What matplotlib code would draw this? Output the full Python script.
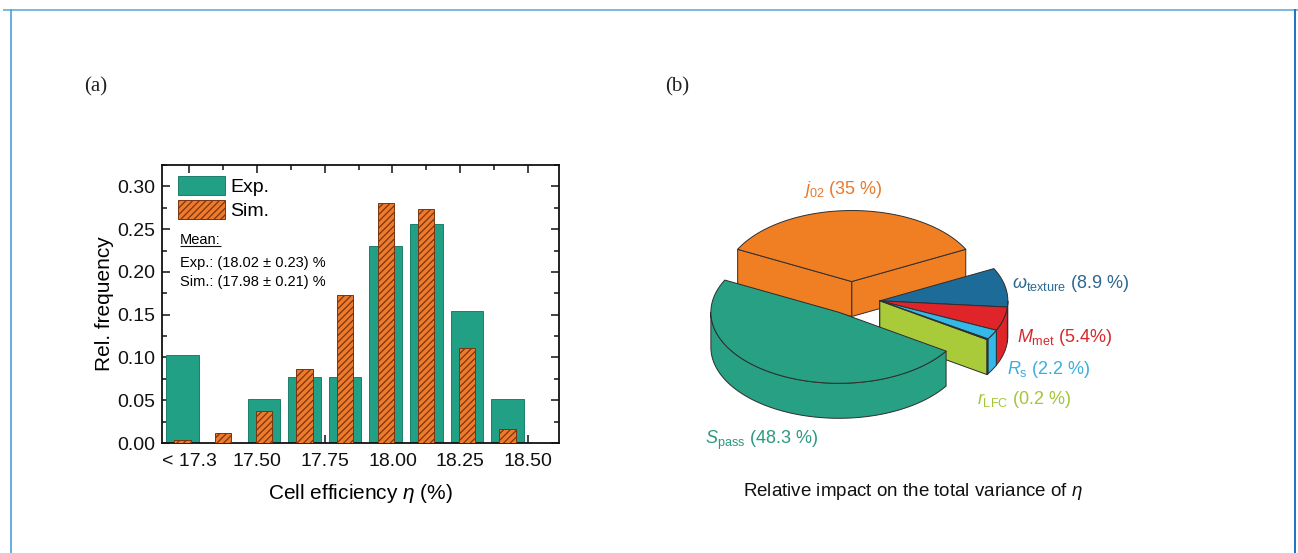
import numpy as np
import matplotlib
matplotlib.use("Agg")
import matplotlib.pyplot as plt
from matplotlib.patches import Polygon
from matplotlib.ticker import MultipleLocator, FormatStrFormatter

plt.rcParams["font.family"] = ["Liberation Sans", "DejaVu Sans"]
plt.rcParams["mathtext.fontset"] = "custom"
plt.rcParams["mathtext.rm"] = "Liberation Sans"
plt.rcParams["mathtext.it"] = "Liberation Sans:italic"
plt.rcParams["mathtext.bf"] = "Liberation Sans:bold"
plt.rcParams["hatch.linewidth"] = 0.9

# ---------------- (a) efficiency histogram ----------------
bin_centers = [17.225, 17.375, 17.525, 17.675, 17.825, 17.975, 18.125, 18.275, 18.425]
exp_freq = [0.1026, 0.0, 0.0513, 0.0769, 0.0769, 0.2308, 0.2564, 0.1538, 0.0513]
sim_freq = [0.003, 0.012, 0.037, 0.086, 0.173, 0.280, 0.273, 0.111, 0.016]
xtick_pos = [17.25, 17.50, 17.75, 18.00, 18.25, 18.50]
xtick_labels = ["< 17.3", "17.50", "17.75", "18.00", "18.25", "18.50"]
series_names = ["Exp.", "Sim."]
mean_lines = ["Exp.: (18.02 \u00b1 0.23) %", "Sim.: (17.98 \u00b1 0.21) %"]

# ---------------- (b) variance contributions ----------------
param_names = [r"$j_{\mathrm{02}}$", r"$S_{\mathrm{pass}}$", r"$r_{\mathrm{LFC}}$",
               r"$R_{\mathrm{s}}$", r"$M_{\mathrm{met}}$", r"$\omega_{\mathrm{texture}}$"]
share_text = ["(35 %)", "(48.3 %)", "(0.2 %)", "(2.2 %)", "(5.4%)", "(8.9 %)"]
share_values = [35.0, 48.3, 0.2, 2.2, 5.4, 8.9]

W, H = 1298, 553
fig = plt.figure(figsize=(W / 100, H / 100), dpi=100)
fig.patch.set_facecolor("white")

# full-figure overlay in pixel units (frame, panel letters, 3D pie)
ov = fig.add_axes([0, 0, 1, 1])
ov.set_xlim(0, W)
ov.set_ylim(H, 0)
ov.axis("off")
ov.patch.set_alpha(0)

ov.plot([3, W], [9.5, 9.5], color="#7DB8E0", lw=1.4, solid_capstyle="butt")
ov.plot([11, 11], [9.5, H], color="#4F9FD8", lw=1.2)
ov.plot([1294.5, 1294.5], [9.5, H], color="#1B73C2", lw=1.4)
ov.text(96, 87, "(a)", family="Liberation Serif", fontsize=15, ha="center", va="center", color="#222222")
ov.text(677, 87, "(b)", family="Liberation Serif", fontsize=15, ha="center", va="center", color="#222222")

# ---- histogram ----
teal = "#22A086"
orange = "#EE7A2C"
ax = fig.add_axes([161.7 / W, 110 / H, 397.6 / W, 278 / H])
b1 = ax.bar(bin_centers, exp_freq, width=0.12, color=teal, edgecolor="#1C7E6A",
            linewidth=0.7, label=series_names[0], zorder=2)
b2 = ax.bar(bin_centers, sim_freq, width=0.06, color=orange, edgecolor="#7A3510",
            linewidth=0.7, hatch="/////", label=series_names[1], zorder=3)
ax.set_xlim(17.148, 18.616)
ax.set_ylim(0, 0.325)
ax.set_xticks(xtick_pos)
ax.set_xticklabels(xtick_labels)
ax.xaxis.set_minor_locator(MultipleLocator(0.125))
ax.yaxis.set_major_locator(MultipleLocator(0.05))
ax.yaxis.set_minor_locator(MultipleLocator(0.025))
ax.yaxis.set_major_formatter(FormatStrFormatter("%.2f"))
ax.tick_params(which="both", direction="in", top=True, right=True, width=1.1, colors="#111111")
ax.tick_params(which="major", length=6, labelsize=14, pad=5)
ax.tick_params(axis="x", which="major", pad=7)
ax.tick_params(which="minor", length=3.5)
for sp in ax.spines.values():
    sp.set_linewidth(1.3)
    sp.set_color("#111111")
ax.set_xlabel(r"Cell efficiency $\eta$ (%)", fontsize=15, labelpad=9)
ax.set_ylabel("Rel. frequency", fontsize=15, labelpad=2)
ax.legend(loc="upper left", bbox_to_anchor=(0.041, 0.96), frameon=False, fontsize=14,
          handlelength=2.4, handleheight=1.1, handletextpad=0.3, labelspacing=0.2,
          borderpad=0, borderaxespad=0)
mean_txt = ax.text(0.046, 0.73, "Mean:", transform=ax.transAxes,
                   fontsize=10.5, ha="left", va="center")
ax.text(0.046, 0.647, mean_lines[0], transform=ax.transAxes, fontsize=10.5, ha="left", va="center")
ax.text(0.046, 0.579, mean_lines[1], transform=ax.transAxes, fontsize=10.5, ha="left", va="center")

# underline for the "Mean:" heading
renderer = fig.canvas.get_renderer()
bb = mean_txt.get_window_extent(renderer).transformed(ax.transAxes.inverted())
ax.plot([bb.x0, bb.x1], [bb.y0 + 0.004, bb.y0 + 0.004], transform=ax.transAxes,
        color="#111111", lw=0.8, solid_capstyle="butt")

# ---- exploded 3D pie ----
slice_colors = ["#F07F24", "#27A083", "#A9CB3A", "#33B8E8", "#E0252A", "#1D6B98"]
label_colors = ["#E8792B", "#2A9A80", "#A4C53A", "#3AAEDD", "#D9262B", "#2C6890"]
group = [0, 1, 2, 2, 2, 2]
explode = {0: 0.26, 1: 0.20, 2: 0.22}
cx, cy = 851.7, 300.0
ra, rb, depth = 128.0, 71.0, 35.0
start = 27.0

spans = np.array(share_values) / sum(share_values) * 360.0
t_start = start + np.concatenate([[0], np.cumsum(spans)[:-1]])
t_end = t_start + spans

group_dir = {}
for g in set(group):
    idx = [i for i in range(len(group)) if group[i] == g]
    group_dir[g] = np.deg2rad(0.5 * (t_start[idx[0]] + t_end[idx[-1]]))


def arc(a, b):
    return np.deg2rad(np.linspace(a, b, max(2, int(abs(b - a) / 1.0) + 2)))


def proj(theta, r, z, ox, oy):
    return np.column_stack([cx + ox + ra * r * np.cos(theta),
                            cy + oy - rb * r * np.sin(theta) + z])


order = sorted(range(len(spans)),
               key=lambda i: -np.sin(np.deg2rad(0.5 * (t_start[i] + t_end[i]))))
z = 5
for i in order:
    g = group[i]
    phi = group_dir[g]
    ox = ra * explode[g] * np.cos(phi)
    oy = -rb * explode[g] * np.sin(phi)
    t1, t2 = t_start[i], t_end[i]
    apex_t = proj(np.array([0.0]), 0, 0, ox, oy)
    apex_b = proj(np.array([0.0]), 0, depth, ox, oy)
    faces = []
    if np.cos(np.deg2rad(t1)) > 0:
        th = np.deg2rad([t1])
        faces.append(np.vstack([apex_t, proj(th, 1, 0, ox, oy), proj(th, 1, depth, ox, oy), apex_b]))
    if np.cos(np.deg2rad(t2)) < 0:
        th = np.deg2rad([t2])
        faces.append(np.vstack([apex_t, proj(th, 1, 0, ox, oy), proj(th, 1, depth, ox, oy), apex_b]))
    for k in (-1, 0, 1):
        lo, hi = max(t1, 180 + 360 * k), min(t2, 360 + 360 * k)
        if hi > lo:
            tt = arc(lo, hi)
            faces.append(np.vstack([proj(tt, 1, 0, ox, oy), proj(tt[::-1], 1, depth, ox, oy)]))
    for f in faces:
        ov.add_patch(Polygon(f, closed=True, facecolor=slice_colors[i], edgecolor="#2E2E2E",
                             linewidth=0.7, joinstyle="round", zorder=z))
        z += 1
    top = np.vstack([apex_t, proj(arc(t1, t2), 1, 0, ox, oy)])
    ov.add_patch(Polygon(top, closed=True, facecolor=slice_colors[i], edgecolor="#2E2E2E",
                         linewidth=0.7, joinstyle="round", zorder=z))
    z += 1

label_pos = [(803, 190, "left"), (705, 440, "left"), (977, 400, "left"),
             (1007, 370, "left"), (1017, 338, "left"), (1012, 283, "left")]
for i, (x, y, ha) in enumerate(label_pos):
    ov.text(x, y, param_names[i] + " " + share_text[i], color=label_colors[i],
            fontsize=13, ha=ha, va="center", zorder=50)

ov.text(913, 492, r"Relative impact on the total variance of $\eta$", fontsize=13.5,
        ha="center", va="center", color="#111111")

fig.savefig("out.png", dpi=100, facecolor="white")
